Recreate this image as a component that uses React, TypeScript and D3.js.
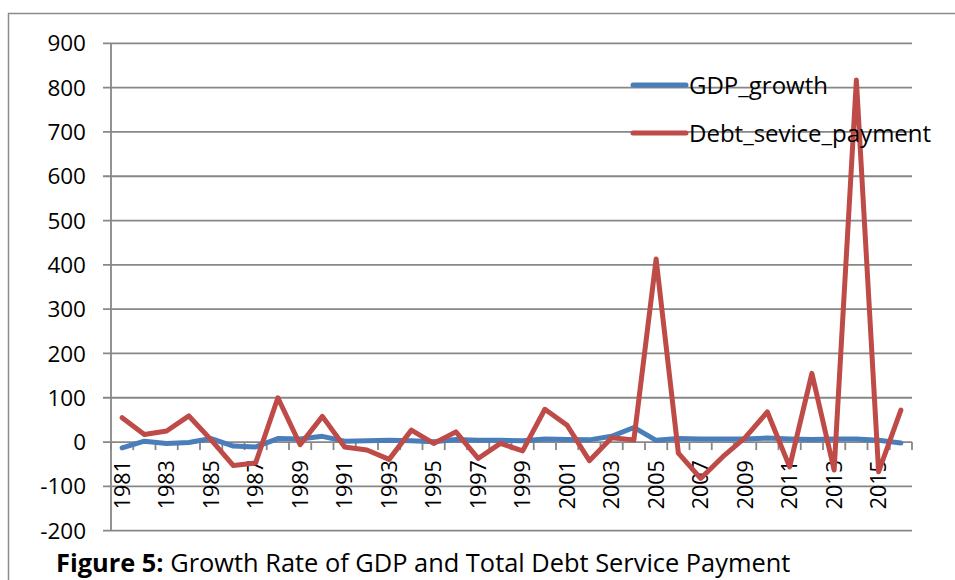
import React from "react";
import * as d3 from "d3";

const years: string[] = d3.range(1981, 2017).map(String);
const gdpGrowth: number[] = [
  -13, 2, -3, -1, 8, -9, -11, 8, 7, 13, 2, 3, 4, 3, 1, 6, 4, 4, 3, 7, 6, 5, 13, 33, 4, 8, 7, 7, 7, 9, 7, 6, 7, 7, 4, -2,
];
const debtService: number[] = [
  55, 17, 25, 59, 5, -53, -47, 100, -6, 58, -11, -18, -39, 27, -3, 23, -37, -3, -20, 74, 38, -42, 10, 5, 413, -25, -82,
  -33, 10, 68, -56, 155, -63, 817, -67, 72,
];
const yTicks: number[] = [-200, -100, 0, 100, 200, 300, 400, 500, 600, 700, 800, 900];
const seriesNames: string[] = ["GDP_growth", "Debt_sevice_payment"];
const seriesColors: string[] = ["#4a7ebb", "#be4b48"];
const titleBold = "Figure 5:";
const titleRest = " Growth Rate of GDP and Total Debt Service Payment";

export default function App() {
  const W = 955,
    H = 580;
  const left = 111,
    right = 912,
    top = 43.3,
    bottom = 530.7;
  const x = d3.scaleBand<string>().domain(years).range([left, right]).padding(0);
  const y = d3.scaleLinear().domain([-200, 900]).range([bottom, top]);
  const cx = (d: string) => (x(d) as number) + x.bandwidth() / 2;
  const line = d3
    .line<number>()
    .x((_, i) => cx(years[i]))
    .y((v) => y(v));
  const font = "'Open Sans', sans-serif";
  const grid = "#878787";
  const boundaries = d3.range(years.length + 1).map((i) => left + i * x.bandwidth());

  return (
    <svg width={W} height={H} style={{ position: "absolute", left: 0, top: 0, background: "#fff" }}>
      <rect x={8.5} y={13.5} width={W + 20} height={H + 20} fill="#fff" stroke="#8c8c8c" strokeWidth={1.5} />
      {yTicks.map((t) => (
        <g key={t}>
          <line x1={103} x2={right} y1={y(t)} y2={y(t)} stroke={grid} strokeWidth={1.8} />
          <text x={86} y={y(t)} dy="0.36em" textAnchor="end" fontFamily={font} fontSize={22.5} fill="#000">
            {t}
          </text>
        </g>
      ))}
      <line x1={left} x2={left} y1={top} y2={bottom} stroke={grid} strokeWidth={1.8} />
      {boundaries.map((bx, i) => (
        <line key={i} x1={bx} x2={bx} y1={y(0)} y2={y(0) + 8} stroke={grid} strokeWidth={1.8} />
      ))}
      {years.map((yr, i) =>
        i % 2 === 0 ? (
          <text
            key={yr}
            transform={`translate(${cx(yr)},${y(0) + 18}) rotate(-90)`}
            textAnchor="end"
            dy="0.36em"
            fontFamily={font}
            fontSize={21.5}
            fill="#000"
          >
            {yr}
          </text>
        ) : null
      )}
      {[gdpGrowth, debtService].map((s, k) => (
        <path
          key={k}
          d={line(s) || ""}
          fill="none"
          stroke={seriesColors[k]}
          strokeWidth={5}
          strokeLinejoin="round"
          strokeLinecap="round"
        />
      ))}
      {seriesNames.map((n, k) => (
        <g key={n}>
          <line
            x1={633}
            x2={686}
            y1={85 + k * 48}
            y2={85 + k * 48}
            stroke={seriesColors[k]}
            strokeWidth={5}
            strokeLinecap="round"
          />
          <text x={689} y={85 + k * 48} dy="0.36em" fontFamily={font} fontSize={24} fill="#000">
            {n}
          </text>
        </g>
      ))}
      <text x={56} y={572} fontFamily={font} fontSize={25.4} fill="#000">
        <tspan fontWeight="bold">{titleBold}</tspan>
        <tspan>{titleRest}</tspan>
      </text>
    </svg>
  );
}
